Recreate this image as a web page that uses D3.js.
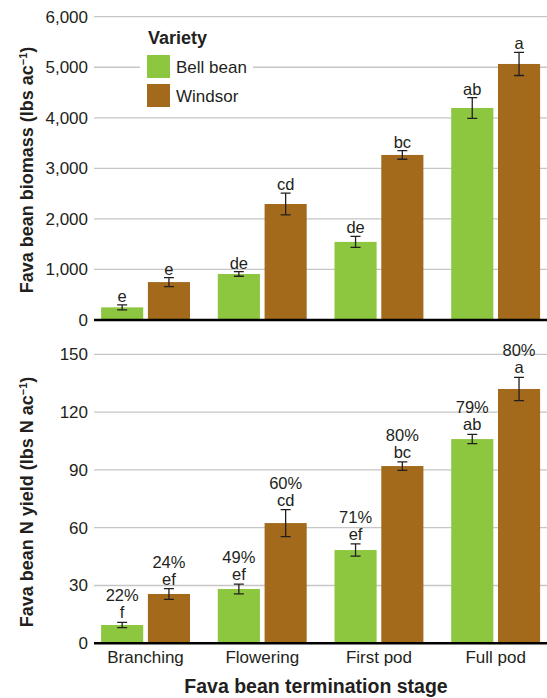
<!DOCTYPE html>
<html><head><meta charset="utf-8">
<script src="https://cdn.jsdelivr.net/npm/d3@7"></script>
<style>body{margin:0;background:#fff}svg{display:block}text{font-family:"Liberation Sans",Arial,sans-serif;fill:#231f20}</style>
</head><body><svg id="c" width="547" height="698"></svg>
<script>
const stages = ["Branching","Flowering","First pod","Full pod"];
const varieties = ["Bell bean","Windsor"];
const colors = ["#8dc63f","#a36a1b"];
const biomassBell = [250, 910, 1545, 4195];
const biomassBellErr = [50, 45, 110, 205];
const biomassWindsor = [750, 2295, 3265, 5065];
const biomassWindsorErr = [90, 215, 85, 228];
const biomassBellLetters = ["e","de","de","ab"];
const biomassWindsorLetters = ["e","cd","bc","a"];
const nBell = [9.5, 28.2, 48.4, 106.0];
const nBellErr = [1.4, 2.5, 3.2, 2.4];
const nWindsor = [25.6, 62.4, 92.0, 132.0];
const nWindsorErr = [2.8, 7.0, 2.2, 6.0];
const nBellLetters = ["f","ef","ef","ab"];
const nWindsorLetters = ["ef","cd","bc","a"];
const nBellPct = ["22%","49%","71%","79%"];
const nWindsorPct = ["24%","60%","80%","80%"];
const biomassTicks = [0,1000,2000,3000,4000,5000,6000];
const nTicks = [0,30,60,90,120,150];

const svg = d3.select("#c");
const x = d3.scaleBand().domain(stages).range([87.2, 554]).paddingInner(0).paddingOuter(0);
const xi = d3.scaleBand().domain(varieties).range([13.9, x.bandwidth()-13.9]).paddingInner(0.1);
const gridX0 = 94, gridX1 = 547;

function panel(cfg){
  const y = d3.scaleLinear().domain([0, cfg.max]).range([cfg.y0, cfg.y1]);
  const g = svg.append("g");
  g.selectAll(".grid").data(cfg.ticks.filter(t=>t>0)).join("line")
    .attr("x1",gridX0).attr("x2",gridX1).attr("y1",d=>y(d)).attr("y2",d=>y(d))
    .attr("stroke","#c6c6c6").attr("stroke-width",1.3);
  const ax = g.append("g").attr("transform",`translate(${gridX0},0)`)
    .call(d3.axisLeft(y).tickValues(cfg.ticks).tickFormat(d3.format(",")).tickSize(0).tickPadding(6));
  ax.select(".domain").remove();
  ax.selectAll("text").style("font-size","17px").attr("fill","#231f20").style("font-family",'"Liberation Sans",Arial,sans-serif');
  if(cfg.legendBox) cfg.legendBox(g);
  const series = [
    {v:cfg.bell, e:cfg.bellErr, l:cfg.bellL, p:cfg.bellP, k:0},
    {v:cfg.wind, e:cfg.windErr, l:cfg.windL, p:cfg.windP, k:1}
  ];
  series.forEach(s=>{
    const bx = i => x(stages[i]) + xi(varieties[s.k]);
    const idx = d3.range(stages.length);
    g.selectAll(null).data(idx).join("rect")
      .attr("x",i=>bx(i)).attr("width",xi.bandwidth())
      .attr("y",i=>y(s.v[i])).attr("height",i=>y(0)-y(s.v[i]))
      .attr("fill",colors[s.k]);
    const cx = i => bx(i)+xi.bandwidth()/2;
    g.selectAll(null).data(idx).join("path")
      .attr("d",i=>{const t=y(s.v[i]+s.e[i]), b=y(s.v[i]-s.e[i]);
        return `M${cx(i)-5},${t}H${cx(i)+5}M${cx(i)},${t}V${b}M${cx(i)-5},${b}H${cx(i)+5}`;})
      .attr("stroke","#231f20").attr("stroke-width",1.3).attr("fill","none");
    g.selectAll(null).data(idx).join("text")
      .attr("x",cx).attr("y",i=>y(s.v[i]+s.e[i])-cfg.gap)
      .attr("text-anchor","middle").style("font-size","16.5px").text(i=>s.l[i]);
    if(s.p){
      g.selectAll(null).data(idx).join("text")
        .attr("x",cx).attr("y",i=>y(s.v[i]+s.e[i])-cfg.gap-17)
        .attr("text-anchor","middle").style("font-size","16.5px").text(i=>s.p[i]);
    }
  });
  g.append("line").attr("x1",gridX0).attr("x2",gridX1).attr("y1",y(0)).attr("y2",y(0))
    .attr("stroke","#000").attr("stroke-width",2.5);
  const t = g.append("text").attr("transform",`translate(${cfg.tx},${cfg.ty}) rotate(-90)`)
    .attr("text-anchor","middle").style("font-size","18px").style("font-weight","bold");
  t.append("tspan").text(cfg.title);
  t.append("tspan").attr("baseline-shift","super").style("font-size","11px").text("−1");
  t.append("tspan").text(")");
  return y;
}

panel({max:6000, y0:320, y1:16.7, ticks:biomassTicks, bell:biomassBell, bellErr:biomassBellErr,
  wind:biomassWindsor, windErr:biomassWindsorErr, bellL:biomassBellLetters, windL:biomassWindsorLetters,
  gap:3, tx:33, ty:170, title:"Fava bean biomass (lbs ac",
  legendBox:(g)=>{
    g.append("rect").attr("x",140).attr("y",22).attr("width",113).attr("height",90).attr("fill","#fff");
    g.append("text").attr("x",148).attr("y",44).style("font-size","18px").style("font-weight","bold").text("Variety");
    varieties.forEach((v,i)=>{
      g.append("rect").attr("x",147).attr("y",55+i*29).attr("width",23).attr("height",23).attr("fill",colors[i]);
      g.append("text").attr("x",176).attr("y",72.5+i*29).style("font-size","17px").text(v);
    });
  }});

panel({max:150, y0:643.3, y1:354.3, ticks:nTicks, bell:nBell, bellErr:nBellErr,
  wind:nWindsor, windErr:nWindsorErr, bellL:nBellLetters, windL:nWindsorLetters,
  bellP:nBellPct, windP:nWindsorPct,
  gap:4, tx:33, ty:502, title:"Fava bean N yield (lbs N ac"});

svg.append("g").selectAll("text").data(stages).join("text")
  .attr("x",d=>x(d)+x.bandwidth()/2).attr("y",663).attr("text-anchor","middle")
  .style("font-size","17px").text(d=>d);
svg.append("text").attr("x",316).attr("y",693).attr("text-anchor","middle")
  .style("font-size","19.5px").style("font-weight","bold").text("Fava bean termination stage");
</script></body></html>
